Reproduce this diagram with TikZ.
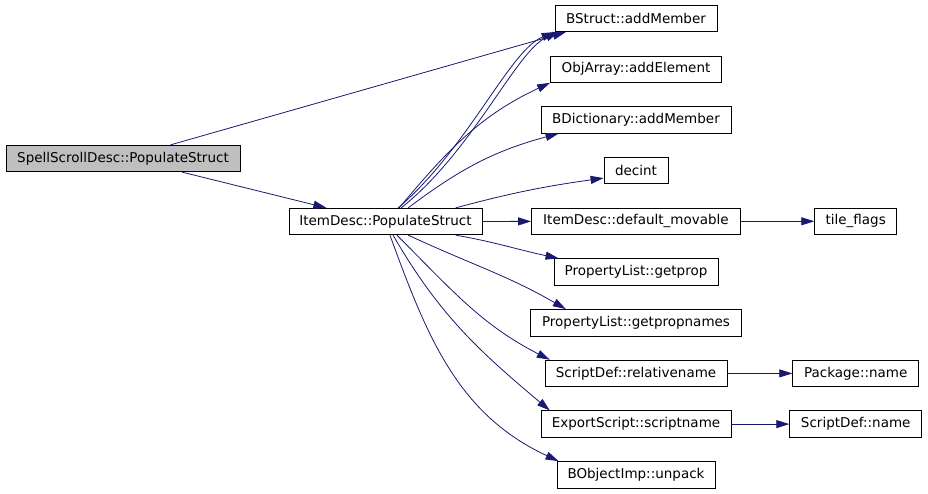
\documentclass[tikz,border=0pt]{standalone}
\usepackage{fontspec}
\setmainfont{DejaVu Sans}
\usetikzlibrary{shapes,arrows.meta,positioning}
\definecolor{edgeblue}{RGB}{25,25,112}
\definecolor{rootgray}{RGB}{191,191,191}

\begin{document}
\begin{tikzpicture}[x=1pt, y=1pt, node distance=50.7pt, auto]

% Alakzatok definiálása
\tikzstyle{func} = [rectangle, minimum height=26.5pt, inner xsep=4pt, text centered, draw=black, line width=0.8pt, font=\fontsize{13.5}{15}\selectfont]
\tikzstyle{root} = [func, fill=rootgray]
\tikzstyle{arrow} = [edgeblue, line width=0.8pt, -{Triangle[length=13pt,width=8pt]}]

\useasboundingbox (0,0) rectangle (928,493);

% Hívott függvények
\node (bstruct) [func, minimum width=162pt] at (636,474.5) {BStruct::addMember};
\node (objarray) [func, minimum width=171pt, below of=bstruct] {ObjArray::addElement};
\node (bdict) [func, minimum width=190pt, below of=objarray] {BDictionary::addMember};
\node (decint) [func, minimum width=64pt, below of=bdict] {decint};
\node (defmov) [func, minimum width=209pt, below of=decint] {ItemDesc::default\_movable};
\node (getprop) [func, minimum width=164pt, below of=defmov] {PropertyList::getprop};
\node (getpropnames) [func, minimum width=211pt, below of=getprop] {PropertyList::getpropnames};
\node (relname) [func, minimum width=182pt, below of=getpropnames] {ScriptDef::relativename};
\node (scriptname) [func, minimum width=190pt, below of=relname] {ExportScript::scriptname};
\node (unpack) [func, minimum width=158pt, below of=scriptname] {BObjectImp::unpack};
\node (tileflags) [func, minimum width=82pt, right of=defmov, xshift=169pt] {tile\_flags};
\node (pkgname) [func, minimum width=126pt, right of=relname, xshift=169pt] {Package::name};
\node (sdname) [func, minimum width=132pt, right of=scriptname, xshift=169pt] {ScriptDef::name};
\node (item) [func, minimum width=193pt] at (385.5,271.5) {ItemDesc::PopulateStruct};
\node (spell) [root, minimum width=234pt] at (123,334.5) {SpellScrollDesc::PopulateStruct};

% Hívások
\draw [arrow] (spell.16) -- (bstruct.191);
\draw [arrow] (spell.-13) -- (item.167);
\draw [arrow] (item.47) .. controls +(70,60) and +(-45,-18) .. (bstruct.south west);
\draw [arrow] (item.41) .. controls +(72,57) and +(-42,-18) .. (bstruct.190);
\draw [arrow] (item.45) to[out=50,in=205] (objarray.189);
\draw [arrow] (item.31) to[out=37,in=195] (bdict.190);
\draw [arrow] (item.11) to[out=15,in=188] (decint.193);
\draw [arrow] (item) -- (defmov);
\draw [arrow] (defmov) -- (tileflags);
\draw [arrow] (item.-11) to[out=-10,in=168] (getprop.170);
\draw [arrow] (item.-31) to[out=-25,in=150] (getpropnames.169);
\draw [arrow] (item.-50) to[out=-45,in=153] (relname.171);
\draw [arrow] (item.-61) to[out=-60,in=140] (scriptname.171);
\draw [arrow] (item.-72) to[out=-70,in=155] (unpack.170);
\draw [arrow] (relname) -- (pkgname);
\draw [arrow] (scriptname) -- (sdname);
\end{tikzpicture}
\end{document}
